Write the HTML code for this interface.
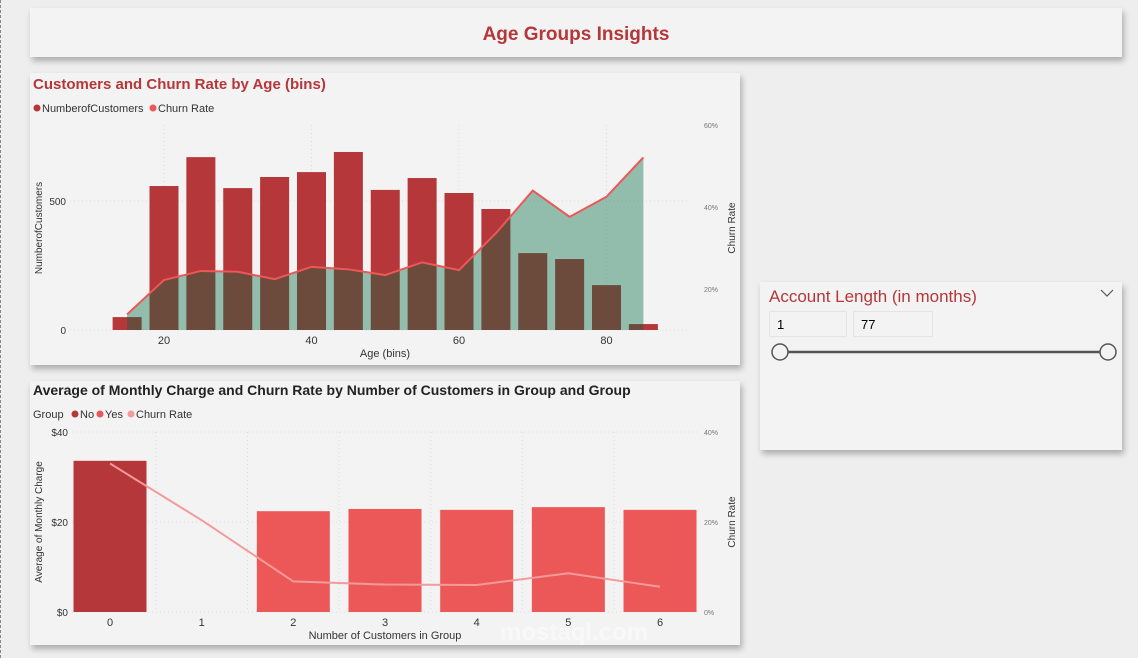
<!DOCTYPE html>
<html><head><meta charset="utf-8"><style>
html,body{margin:0;padding:0;width:1138px;height:658px;overflow:hidden;background:#eeeeee;font-family:"Liberation Sans",sans-serif;}
.card{position:absolute;background:#f3f3f3;box-shadow:2px 4px 6px rgba(0,0,0,0.28);}
#dash{position:absolute;left:0;top:0;width:0;height:658px;border-left:1px dashed #888;}
svg text{font-family:"Liberation Sans",sans-serif;}
</style></head><body>
<div id="dash"></div>
<div class="card" style="left:30px;top:8px;width:1092px;height:49px;">
 <div style="text-align:center;line-height:53px;font-size:19px;font-weight:bold;color:#b5373a;">Age Groups Insights</div>
</div>
<div class="card" style="left:30px;top:73px;width:710px;height:292px;"></div>
<div class="card" style="left:30px;top:381px;width:710px;height:264px;"></div>
<div class="card" style="left:760px;top:282px;width:362px;height:168px;">
 <div style="position:absolute;left:9px;top:5px;font-size:17px;color:#b5373a;">Account Length (in months)</div>
 <svg style="position:absolute;left:340px;top:7px" width="14" height="9"><polyline points="1,1 7,7 13,1" fill="none" stroke="#555" stroke-width="1.2"/></svg>
 <div style="position:absolute;left:9px;top:29px;width:78px;height:26px;border:1px solid #e4e4e4;font-size:13px;line-height:26px;padding-left:7px;box-sizing:border-box;">1</div>
 <div style="position:absolute;left:93px;top:29px;width:80px;height:26px;border:1px solid #e4e4e4;font-size:13px;line-height:26px;padding-left:7px;box-sizing:border-box;">77</div>
 <svg style="position:absolute;left:0;top:55px" width="362" height="30">
  <line x1="20" y1="15" x2="348" y2="15" stroke="#555" stroke-width="2.5"/>
  <circle cx="20" cy="15" r="8" fill="#f3f3f3" stroke="#555" stroke-width="1.5"/>
  <circle cx="348" cy="15" r="8" fill="#f3f3f3" stroke="#555" stroke-width="1.5"/>
 </svg>
</div>
<svg id="charts" width="1138" height="658" style="position:absolute;left:0;top:0"></svg>
<script>
const ageBins=[15,20,25,30,35,40,45,50,55,60,65,70,75,80,85];
const ageCustomers=[50,558,670,550,593,612,690,543,589,531,469,298,275,174,23];
const ageChurn=[13.8,22.2,24.4,24.2,22.4,25.4,24.8,23.4,26.5,24.6,33.6,44.0,37.6,42.5,52.1];
const ageXTicks=[20,40,60,80];
const ageYTicks=[0,500];
const ageRTicks=[20,40,60];
const grpCats=[0,1,2,3,4,5,6];
const grpCharge=[33.6,null,22.4,22.9,22.7,23.3,22.7];
const grpGroup=["No",null,"Yes","Yes","Yes","Yes","Yes"];
const grpChurn=[33.0,20.4,6.8,6.1,6.0,8.6,5.6];
const grpYTicks=[0,20,40];
const grpRTicks=[0,20,40];

const NS="http://www.w3.org/2000/svg";
const svg=document.getElementById('charts');
function mk(tag,attrs,parent){const e=document.createElementNS(NS,tag);for(const k in attrs)e.setAttribute(k,attrs[k]);(parent||svg).appendChild(e);return e;}
function txt(s,attrs){const e=mk('text',attrs);e.textContent=s;return e;}

// ---- chart 1 ----
const ax=v=>164+(v-20)*7.375;
const ay=v=>330-v*0.258;
const ar=p=>371-p*4.1;
let t=txt('Customers and Churn Rate by Age (bins)',{x:33,y:89,'font-size':15,'font-weight':'bold',fill:'#b5373a'});

let g=mk('g',{});
mk('circle',{cx:37,cy:108,r:3.5,fill:'#b5373a'},g);
t=txt('NumberofCustomers',{x:42,y:112,'font-size':11,fill:'#333'});g.appendChild(t);
mk('circle',{cx:153,cy:108,r:3.5,fill:'#ec5757'},g);
t=txt('Churn Rate',{x:158,y:112,'font-size':11,fill:'#333'});g.appendChild(t);
ageXTicks.forEach(v=>{let l=mk('line',{x1:ax(v),x2:ax(v),y1:125,y2:330,stroke:'#ddd','stroke-dasharray':'1,3'});
 let e=txt(v,{x:ax(v),y:344,'font-size':11,'text-anchor':'middle',fill:'#333'});});
ageYTicks.forEach(v=>{let l=mk('line',{x1:70,x2:690,y1:ay(v),y2:ay(v),stroke:'#ddd','stroke-dasharray':'1,3'});
 let e=txt(v,{x:66,y:ay(v)+4,'font-size':10,'text-anchor':'end',fill:'#333'});});
ageRTicks.forEach(v=>{let e=txt(v+'%',{x:704,y:ar(v)+3,'font-size':7,fill:'#777'});});
t=txt('NumberofCustomers',{x:0,y:0,'font-size':10,'text-anchor':'middle',fill:'#333',transform:'translate(42,228) rotate(-90)'});
t=txt('Churn Rate',{x:0,y:0,'font-size':10,'text-anchor':'middle',fill:'#333',transform:'translate(735,228) rotate(-90)'});
t=txt('Age (bins)',{x:385,y:357,'font-size':11,'text-anchor':'middle',fill:'#333'});
ageBins.forEach((b,i)=>{let r=mk('rect',{x:ax(b)-14.5,y:ay(ageCustomers[i]),width:29,height:330-ay(ageCustomers[i]),fill:'#b5373a'});
 });
let pts=ageBins.map((b,i)=>ax(b)+','+ar(ageChurn[i]));
let area=mk('polygon',{points:ax(ageBins[0])+',330 '+pts.join(' ')+' '+ax(ageBins[ageBins.length-1])+',330',fill:'#016842','fill-opacity':0.4});

let ln=mk('polyline',{points:pts.join(' '),fill:'none',stroke:'#ec5757','stroke-width':2});


// ---- chart 2 ----
const bx=c=>110+c*91.67;
const by=v=>612-v*4.5;
const br=p=>612-p*4.5;
t=txt('Average of Monthly Charge and Churn Rate by Number of Customers in Group and Group',{x:33,y:395,'font-size':14,'font-weight':'bold',fill:'#222'});

g=mk('g',{});
g.appendChild(txt('Group',{x:33,y:418,'font-size':11,fill:'#333'}));
mk('circle',{cx:75,cy:414,r:3.5,fill:'#b5373a'},g);g.appendChild(txt('No',{x:80,y:418,'font-size':11,fill:'#333'}));
mk('circle',{cx:100,cy:414,r:3.5,fill:'#ec5757'},g);g.appendChild(txt('Yes',{x:105,y:418,'font-size':11,fill:'#333'}));
mk('circle',{cx:131,cy:414,r:3.5,fill:'#f39a9a'},g);g.appendChild(txt('Churn Rate',{x:136,y:418,'font-size':11,fill:'#333'}));
grpCats.forEach(c=>{if(c>0){let l=mk('line',{x1:bx(c-0.5),x2:bx(c-0.5),y1:432,y2:612,stroke:'#ddd','stroke-dasharray':'1,3'});}
 let e=txt(c,{x:bx(c),y:626,'font-size':11,'text-anchor':'middle',fill:'#333'});});
grpYTicks.forEach(v=>{let l=mk('line',{x1:72,x2:697,y1:by(v),y2:by(v),stroke:'#ddd','stroke-dasharray':'1,3'});
 let e=txt('$'+v,{x:68,y:by(v)+4,'font-size':10,'text-anchor':'end',fill:'#333'});});
grpRTicks.forEach(v=>{let e=txt(v+'%',{x:704,y:br(v)+3,'font-size':7,fill:'#777'});});
t=txt('Average of Monthly Charge',{x:0,y:0,'font-size':10,'text-anchor':'middle',fill:'#333',transform:'translate(42,522) rotate(-90)'});
t=txt('Churn Rate',{x:0,y:0,'font-size':10,'text-anchor':'middle',fill:'#333',transform:'translate(735,522) rotate(-90)'});
t=txt('Number of Customers in Group',{x:385,y:639,'font-size':11,'text-anchor':'middle',fill:'#333'});
grpCats.forEach((c,i)=>{if(grpCharge[i]==null)return;let r=mk('rect',{x:bx(c)-36.5,y:by(grpCharge[i]),width:73,height:612-by(grpCharge[i]),fill:grpGroup[i]==='No'?'#b5373a':'#ec5757'});
 });
ln=mk('polyline',{points:grpCats.map((c,i)=>bx(c)+','+br(grpChurn[i])).join(' '),fill:'none',stroke:'#f39a9a','stroke-width':2});

t=txt('mostaql.com',{x:500,y:640,'font-size':24,'font-weight':'bold',fill:'#ffffff','fill-opacity':0.45});
</script>
</body></html>
